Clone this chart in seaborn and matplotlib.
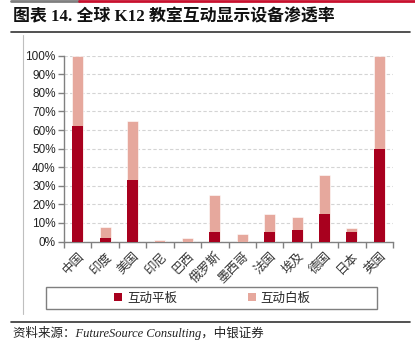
import matplotlib
matplotlib.use("Agg")
import matplotlib.pyplot as plt
import seaborn as sns
import pandas as pd
from matplotlib.lines import Line2D
from matplotlib.patches import Rectangle
from matplotlib.ticker import FixedLocator, PercentFormatter

# ---- data ----
countries = ["中国", "印度", "美国", "印尼", "巴西", "俄罗斯", "墨西哥", "法国", "埃及", "德国", "日本", "英国"]
flat_panel = [62, 2, 33, 0, 0, 5, 0, 5, 6, 15, 5, 50]      # 互动平板
whiteboard = [38, 6, 32, 1, 2, 20, 4, 10, 7, 21, 2, 50]    # 互动白板
series_names = ["互动平板", "互动白板"]
title_text = "图表 14. 全球 K12 教室互动显示设备渗透率"
source_text = "资料来源：FutureSource Consulting，中银证券"

sns.set_theme(style="white")
plt.rcParams["font.family"] = ["Liberation Sans", "Noto Sans CJK SC", "DejaVu Sans"]

dark = "#A8001E"
light = "#E6A89D"

df = pd.DataFrame({"country": countries, "flat": flat_panel, "white": whiteboard})
df["total"] = df["flat"] + df["white"]

W, H = 415, 354
fig = plt.figure(figsize=(W / 100, H / 100), dpi=100)
ax = fig.add_axes([64 / W, 1 - 241.5 / H, (393 - 64) / W, (241.5 - 55.7) / H])

sns.barplot(data=df, x="country", y="total", order=countries, color=light,
            width=0.4, ax=ax, saturation=1, edgecolor="white", linewidth=0.4, zorder=3)
sns.barplot(data=df, x="country", y="flat", order=countries, color=dark,
            width=0.4, ax=ax, saturation=1, linewidth=0, zorder=4)

ax.set_ylim(0, 100)
ax.set_xlim(-0.5, len(countries) - 0.5)
ax.set_xlabel("")
ax.set_ylabel("")
ax.yaxis.set_major_locator(FixedLocator(list(range(0, 101, 10))))
ax.yaxis.set_major_formatter(PercentFormatter(decimals=0))
ax.grid(axis="y", linestyle=(0, (3, 2)), color="#d4d4d4", linewidth=0.8, zorder=0)
ax.set_axisbelow(True)

for s in ["top", "right"]:
    ax.spines[s].set_visible(False)
for s in ["left", "bottom"]:
    ax.spines[s].set_color("#808080")
    ax.spines[s].set_linewidth(1.0)

ax.tick_params(axis="y", which="major", direction="out", length=4, width=1, color="#808080",
               labelsize=8.5, labelcolor="#222222", pad=2, left=True)
ax.set_xticks(range(len(countries)))
ax.set_xticklabels(countries, rotation=45, ha="right", rotation_mode="anchor",
                   fontsize=9, color="#333333", family=["Noto Sans CJK SC", "DejaVu Sans"])
ax.tick_params(axis="x", which="major", length=0, pad=6)
ax.set_xticks([i - 0.5 for i in range(len(countries) + 1)], minor=True)
ax.tick_params(axis="x", which="minor", direction="out", length=4, width=1, color="#808080", bottom=True)

# legend
handles = [Line2D([], [], marker="s", linestyle="none", markersize=6, markerfacecolor=dark, markeredgewidth=0),
           Line2D([], [], marker="s", linestyle="none", markersize=6, markerfacecolor=light, markeredgewidth=0)]
fig.add_artist(Rectangle((46 / W, 1 - 309 / H), (377 - 46) / W, 22 / H, transform=fig.transFigure,
                         fill=False, edgecolor="#7f7f7f", linewidth=1.0))
fig.legend(handles, series_names, loc="center", bbox_to_anchor=(212 / W, 1 - 298 / H), ncol=2,
           frameon=False, handlelength=0.8, handletextpad=0.3, columnspacing=5.6,
           prop={"family": ["Noto Sans CJK SC", "DejaVu Sans"], "size": 9})

# decorations
fig.add_artist(Line2D([11 / W, 79 / W], [1 - 1 / H, 1 - 1 / H], transform=fig.transFigure,
                      color="#7f7f7f", linewidth=2))
fig.add_artist(Line2D([79 / W, 1.0], [1 - 1 / H, 1 - 1 / H], transform=fig.transFigure,
                      color="#C8102E", linewidth=2))
fig.add_artist(Line2D([11 / W, 410 / W], [1 - 31.5 / H, 1 - 31.5 / H], transform=fig.transFigure,
                      color="#333333", linewidth=1.2))
fig.add_artist(Line2D([23 / W, 23 / W], [1 - 35 / H, 1 - 314 / H], transform=fig.transFigure,
                      color="#bfbfbf", linewidth=0.8))
fig.add_artist(Line2D([11 / W, 410 / W], [1 - 322 / H, 1 - 322 / H], transform=fig.transFigure,
                      color="#333333", linewidth=1.2))

fig.text(13 / W, 1 - 17 / H, title_text, fontsize=12.2, fontweight="bold", va="center", ha="left",
         family=["Liberation Serif", "Noto Sans CJK SC", "DejaVu Sans"], color="#111111")
fig.text(13 / W, 1 - 333 / H, source_text, fontsize=9, style="italic", va="center", ha="left",
         family=["Liberation Serif", "Noto Sans CJK SC", "DejaVu Sans"], color="#222222")

fig.savefig("out.png", dpi=100)
